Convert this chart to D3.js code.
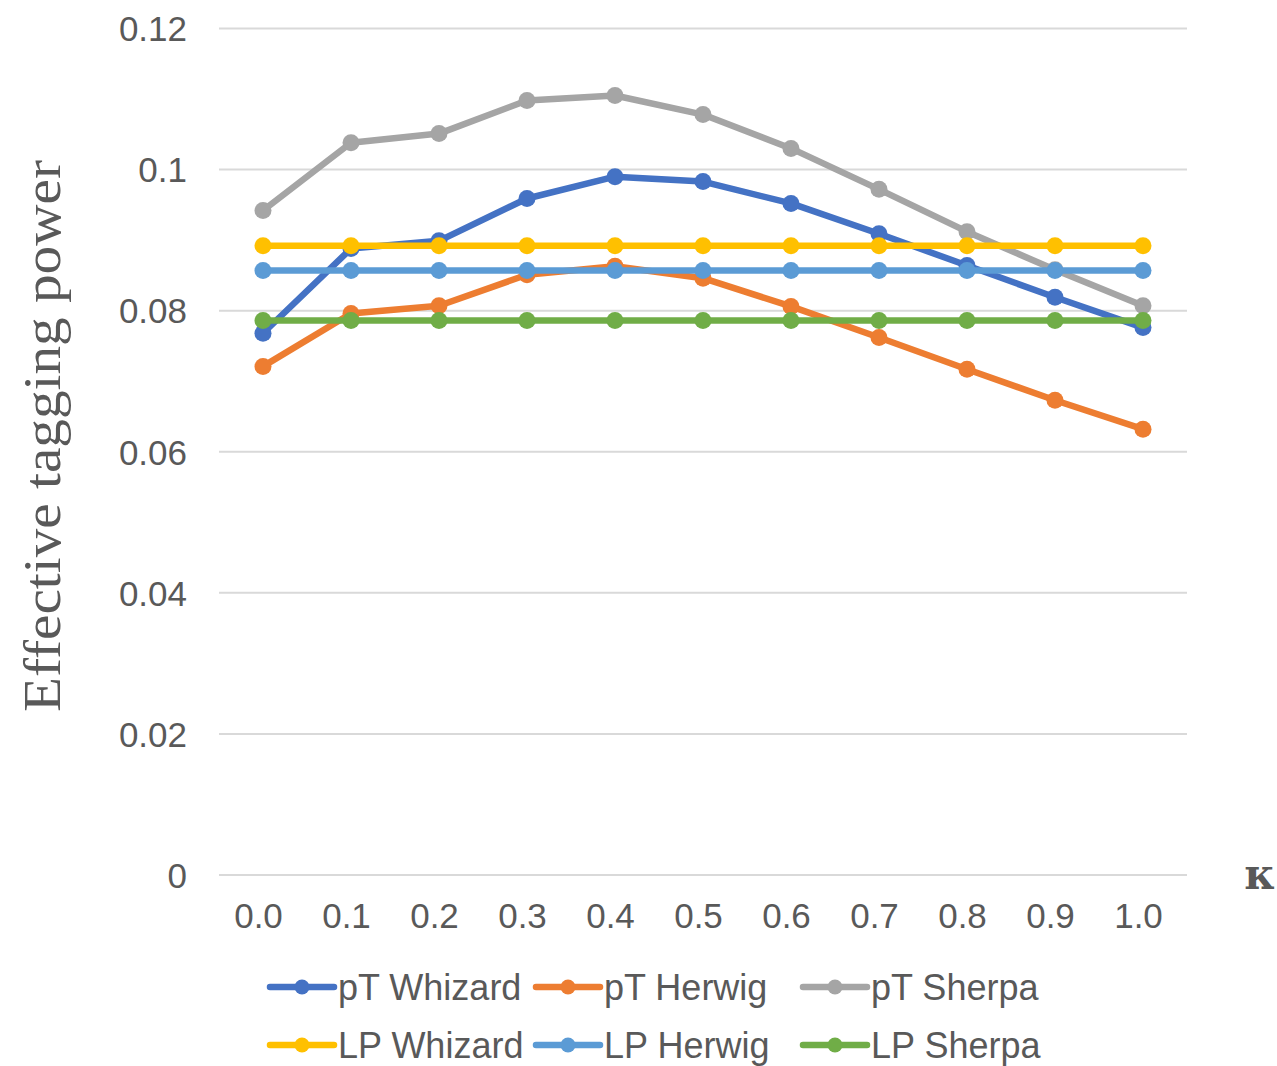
<!DOCTYPE html>
<html>
<head>
<meta charset="utf-8">
<script src="https://cdn.jsdelivr.net/npm/d3@7"></script>
<style>
  html, body { margin: 0; padding: 0; background: #fff; }
  svg { display: block; }
</style>
</head>
<body>
<svg id="chart" width="1277" height="1066"></svg>
<script>
// κ values along the horizontal axis
const kappa = ["0.0", "0.1", "0.2", "0.3", "0.4", "0.5", "0.6", "0.7", "0.8", "0.9", "1.0"];

// Effective tagging power per method / generator
const ptWhizard = [0.0768, 0.0888, 0.0899, 0.0959, 0.0990, 0.0983, 0.0952, 0.0909, 0.0864, 0.0819, 0.0776];
const ptHerwig  = [0.0721, 0.0796, 0.0807, 0.0851, 0.0863, 0.0846, 0.0806, 0.0762, 0.0717, 0.0673, 0.0632];
const ptSherpa  = [0.0942, 0.1038, 0.1051, 0.1098, 0.1105, 0.1078, 0.1030, 0.0972, 0.0912, 0.0858, 0.0807];
const lpWhizard = [0.0892, 0.0892, 0.0892, 0.0892, 0.0892, 0.0892, 0.0892, 0.0892, 0.0892, 0.0892, 0.0892];
const lpHerwig  = [0.0857, 0.0857, 0.0857, 0.0857, 0.0857, 0.0857, 0.0857, 0.0857, 0.0857, 0.0857, 0.0857];
const lpSherpa  = [0.0786, 0.0786, 0.0786, 0.0786, 0.0786, 0.0786, 0.0786, 0.0786, 0.0786, 0.0786, 0.0786];

const seriesNames = ["pT Whizard", "pT Herwig", "pT Sherpa", "LP Whizard", "LP Herwig", "LP Sherpa"];
const seriesColors = ["#4472C4", "#ED7D31", "#A5A5A5", "#FFC000", "#5B9BD5", "#70AD47"];
const yTicks = [0, 0.02, 0.04, 0.06, 0.08, 0.1, 0.12];
const yTickLabels = ["0", "0.02", "0.04", "0.06", "0.08", "0.1", "0.12"];

const seriesValues = [ptWhizard, ptHerwig, ptSherpa, lpWhizard, lpHerwig, lpSherpa];

const svg = d3.select("#chart");
const plot = { left: 219, right: 1187, top: 28.5, bottom: 875 };
const tickFont = "'Liberation Sans', Arial, sans-serif";
const textColor = "#595959";

const x = d3.scalePoint().domain(kappa).range([plot.left, plot.right]).padding(0.5);
const y = d3.scaleLinear().domain([0, 0.12]).range([plot.bottom, plot.top]);

// horizontal gridlines
svg.append("g")
  .selectAll("line")
  .data(yTicks)
  .join("line")
  .attr("x1", plot.left)
  .attr("x2", plot.right)
  .attr("y1", d => y(d))
  .attr("y2", d => y(d))
  .attr("stroke", "#d9d9d9")
  .attr("stroke-width", 2);

// y tick labels
const yAxis = d3.axisLeft(y).tickValues(yTicks)
  .tickFormat((d, i) => yTickLabels[i]).tickSize(0).tickPadding(0);
const gy = svg.append("g").attr("transform", "translate(187,0)").call(yAxis);
gy.select(".domain").remove();
gy.selectAll("text")
  .attr("font-family", tickFont)
  .attr("font-size", 35)
  .attr("fill", textColor)
  .attr("dy", "0.35em");

// x tick labels
const xAxis = d3.axisBottom(x).tickSize(0).tickPadding(0);
const gx = svg.append("g").attr("transform", "translate(-5,916)").call(xAxis);
gx.select(".domain").remove();
gx.selectAll("text")
  .attr("font-family", tickFont)
  .attr("font-size", 35)
  .attr("fill", textColor)
  .attr("dy", "0.35em");

// series lines and markers
const line = d3.line().x((d, i) => x(kappa[i])).y(d => y(d));
seriesValues.forEach((vals, s) => {
  const g = svg.append("g");
  g.append("path")
    .datum(vals)
    .attr("d", line)
    .attr("fill", "none")
    .attr("stroke", seriesColors[s])
    .attr("stroke-width", 6.5)
    .attr("stroke-linejoin", "round");
  g.selectAll("circle")
    .data(vals)
    .join("circle")
    .attr("cx", (d, i) => x(kappa[i]))
    .attr("cy", d => y(d))
    .attr("r", 8.5)
    .attr("fill", seriesColors[s]);
});

// axis titles
svg.append("text")
  .attr("transform", "translate(60,436) rotate(-90)")
  .attr("text-anchor", "middle")
  .attr("font-family", "'Liberation Serif', 'DejaVu Serif', serif")
  .attr("font-size", 52)
  .attr("textLength", 552)
  .attr("lengthAdjust", "spacingAndGlyphs")
  .attr("fill", textColor)
  .text("Effective tagging power");

svg.append("text")
  .attr("x", 1260)
  .attr("y", 889)
  .attr("text-anchor", "middle")
  .attr("font-family", "'DejaVu Serif', 'Liberation Serif', serif")
  .attr("font-weight", "bold")
  .attr("font-size", 42)
  .attr("fill", textColor)
  .text("κ");

// legend, two rows of three
const legendCols = [270, 536, 803];
const legendRows = [987, 1045];
seriesNames.forEach((name, s) => {
  const lx = legendCols[s % 3];
  const ly = legendRows[Math.floor(s / 3)];
  const g = svg.append("g").attr("transform", `translate(${lx},${ly})`);
  g.append("line")
    .attr("x1", 0).attr("x2", 64)
    .attr("y1", 0).attr("y2", 0)
    .attr("stroke", seriesColors[s])
    .attr("stroke-width", 6.5)
    .attr("stroke-linecap", "round");
  g.append("circle")
    .attr("cx", 32).attr("cy", 0).attr("r", 7.5)
    .attr("fill", seriesColors[s]);
  g.append("text")
    .attr("x", 68).attr("y", 0)
    .attr("dy", "0.35em")
    .attr("font-family", tickFont)
    .attr("font-size", 36)
    .attr("fill", textColor)
    .text(name);
});
</script>
</body>
</html>
